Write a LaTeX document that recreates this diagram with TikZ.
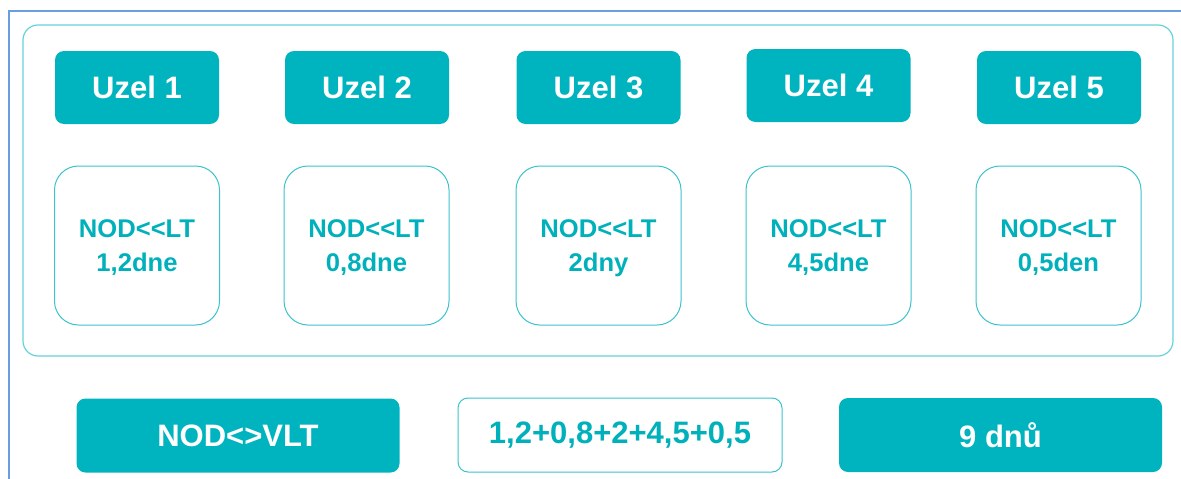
\documentclass[tikz,border=0pt]{standalone}
\usepackage{fontspec}
\setmainfont{Liberation Sans}
\definecolor{tealfill}{HTML}{00B4BF}
\definecolor{tealtext}{HTML}{00B1BC}
\definecolor{tealline}{HTML}{3CC3CC}
\definecolor{panelline}{HTML}{66D2DA}
\definecolor{frameblue}{HTML}{6C9DE2}
\begin{document}
\begin{tikzpicture}[x=1pt,y=-1pt,
  solidbox/.style={rectangle, rounded corners=9pt, fill=tealfill, draw=none,
    text=white, font=\fontsize{31}{36}\selectfont\bfseries,
    inner sep=0pt, minimum width=164pt, minimum height=73pt},
  widebox/.style={solidbox, minimum width=323pt, minimum height=74pt},
  daybox/.style={rectangle, rounded corners=24pt, draw=tealline, line width=1pt,
    fill=white, text=tealtext, align=center,
    font=\fontsize{25.6}{34}\selectfont\bfseries,
    inner sep=0pt, minimum width=165pt, minimum height=159pt},
  daytext/.style={text=tealtext, align=center, inner sep=0pt,
    font=\fontsize{25.6}{34}\selectfont\bfseries},
  sumbox/.style={rectangle, rounded corners=10pt, draw=tealline, line width=1pt,
    fill=white, text=tealtext, font=\fontsize{31}{36}\selectfont\bfseries,
    inner sep=0pt, minimum width=324pt, minimum height=74pt}]
  \useasboundingbox (0,0) rectangle (1181,479);
  \fill[white] (0,0) rectangle (1181,479);
  % outer frame edges
  \draw[frameblue, line width=2pt] (9,479) -- (9,11) -- (1181,11);
  % panel holding the five nodes
  \draw[panelline, line width=1.2pt, rounded corners=15pt] (23,25) rectangle (1173,356);
  % node headers
  \node[solidbox] (u1) at (137,87.5) {Uzel 1};
  \node[solidbox] (u2) at (367,87.5) {Uzel 2};
  \node[solidbox] (u3) at (598.5,87.5) {Uzel 3};
  \node[solidbox] (u4) at (828.5,85.5) {Uzel 4};
  \node[solidbox] (u5) at (1059,87.5) {Uzel 5};
  % per-node durations: frames, then their two-line labels
  \node[daybox] (d1) at (137,245.5) {};
  \node[daybox] (d2) at (366.5,245.5) {};
  \node[daybox] (d3) at (598.5,245.5) {};
  \node[daybox] (d4) at (828.5,245.5) {};
  \node[daybox] (d5) at (1058.5,245.5) {};
  \node[daytext] (t1) at ([yshift=-2.5pt]d1.center) {NOD<{}<LT\\1,2dne};
  \node[daytext] (t2) at ([yshift=-2.5pt]d2.center) {NOD<{}<LT\\0,8dne};
  \node[daytext] (t3) at ([yshift=-2.5pt]d3.center) {NOD<{}<LT\\2dny};
  \node[daytext] (t4) at ([yshift=-2.5pt]d4.center) {NOD<{}<LT\\4,5dne};
  \node[daytext] (t5) at ([yshift=-2.5pt]d5.center) {NOD<{}<LT\\0,5den};
  % summary row
  \node[widebox] (vlt) at (238,435.5) {NOD<{}>VLT};
  \node[sumbox] (sum) at (620,435) {1,2+0,8+2+4,5+0,5};
  \node[widebox] (tot) at (1000.5,435) {9 dnů};
\end{tikzpicture}
\end{document}
